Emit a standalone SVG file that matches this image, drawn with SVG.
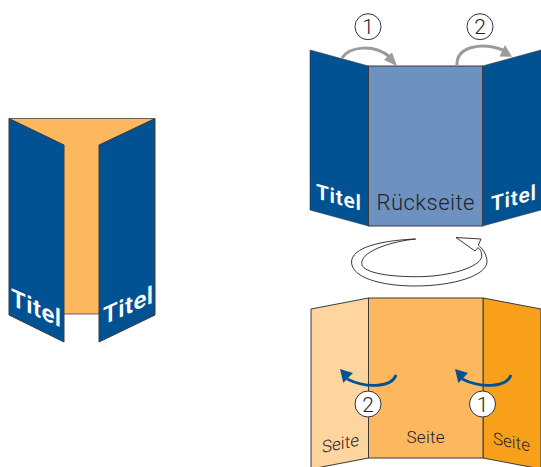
<svg xmlns="http://www.w3.org/2000/svg" width="541" height="467" viewBox="0 0 541 467">
<style>
.e{stroke:#3a3a3c;stroke-width:1;stroke-linejoin:miter}
.b{fill:#005293}
.t{font-family:"Roboto","Liberation Sans",sans-serif}
.w{fill:#fff;font-weight:600}
.d{fill:#1f2328;font-size:17px;font-weight:300}
.n{fill:#1f2328;font-size:21px;text-anchor:middle;font-weight:300}
.c{stroke:#2f3338;stroke-width:1}
.g{fill:none;stroke:#9a9b9d;stroke-width:3}
.h{fill:#9a9b9d}
.bl{fill:none;stroke:#005293;stroke-width:2.8}
.ba{fill:#005293}
</style>
<g id="left-folder">
<polygon points="9,118.5 155,118.5 155,314 9,314" fill="#fdb85f" stroke="none"/>
<path d="M9,118.5H155M64,314H99" class="e" fill="none" stroke-opacity=".75"/>
<polygon class="b e" points="9,118.5 64,145 64,342 9,315"/>
<polygon class="b e" points="155,118.5 99,145 99,342 155,315"/>
<text class="t w" transform="matrix(1 .45 0 1 11 305)" font-size="24" textLength="50">Titel</text>
<text class="t w" transform="matrix(1 -.45 0 1 103 325)" font-size="24" textLength="50">Titel</text>
</g>
<g id="back-folder">
<polygon class="b" points="310,50 368.5,66 368.5,226 310,210"/>
<polygon class="b" points="482.5,66 541,50 541,210 482.5,226"/>
<path d="M310,50L368.5,66M310,50V210L368.5,226M482.5,226L541,210M482.5,66L541,50" fill="none" stroke="#3a3a3c" stroke-width=".6"/>
<rect class="e" x="368.5" y="66" width="114" height="160" fill="#6e92bf"/>
<text class="t w" transform="matrix(1 .27 0 1 316 198.5)" font-size="21" textLength="45">Titel</text>
<text class="t w" transform="matrix(1 -.27 0 1 491 211.5)" font-size="21" textLength="45">Titel</text>
<text class="t" x="425.5" y="210" fill="#1f2328" font-size="22" font-weight="300" text-anchor="middle" textLength="98">Rückseite</text>
</g>
<g id="front-folder">
<polygon class="e" points="311,309 368.5,298 368.5,458 311,469" fill="#fed49f"/>
<polygon class="e" points="483,298 541,309 541,469 483,458" fill="#f9a01b"/>
<rect class="e" x="368.5" y="298" width="114.5" height="160" fill="#fdb85f"/>
<text class="t d" transform="matrix(1 -.2 0 1 322 453)" textLength="37">Seite</text>
<text class="t d" x="406.5" y="443" textLength="38">Seite</text>
<text class="t d" transform="matrix(1 .2 0 1 493 444)" textLength="37">Seite</text>
</g>
<g id="connectors">
<path class="g" d="M342,58C350,46 374,44 390,57"/>
<polygon class="h" points="397,66 384,60 392,52.5"/>
<path class="g" d="M457,65.5C456,46 482,42 503,50"/>
<polygon class="h" points="512,56.7 499.5,56.5 505,45"/>
<path d="M415.7,239C390,240 355,245 351.7,260C349,277 380,286 415,286C455,286 487,275 487,261.7C487,256 484,250 478.3,245L481,239L456,237.5L475,251L478,247.5C481,250 482,253 481.7,256.7C480,267 450,276.7 416.7,276.7C385,276.7 361.7,272 361.7,263.3C361.7,250 395,241 415.7,239Z" fill="#fff" stroke="#222" stroke-width=".9"/>
<path class="bl" d="M396,375C392,387 368,389 347,379"/>
<polygon class="ba" points="340,369 343.3,382.7 353,373"/>
<path class="bl" d="M511,375C507,387 483,389 462,379"/>
<polygon class="ba" points="455,369 458.3,383 468,373"/>
</g>
<g id="step-1-top"><circle cx="368" cy="26.7" r="13" fill="#fff" class="c"/><text class="t n" x="368" y="34.2">1</text></g>
<g id="step-2-top"><circle cx="480" cy="26.7" r="13" fill="#fff" class="c"/><text class="t n" x="480" y="34.2">2</text></g>
<g id="step-2-bottom"><circle cx="368" cy="404" r="13" fill="#fff" class="c"/><text class="t n" x="368" y="411.5">2</text></g>
<g id="step-1-bottom"><circle cx="482.5" cy="404" r="13" fill="#fff" class="c"/><text class="t n" x="482.5" y="411.5">1</text></g>
</svg>
